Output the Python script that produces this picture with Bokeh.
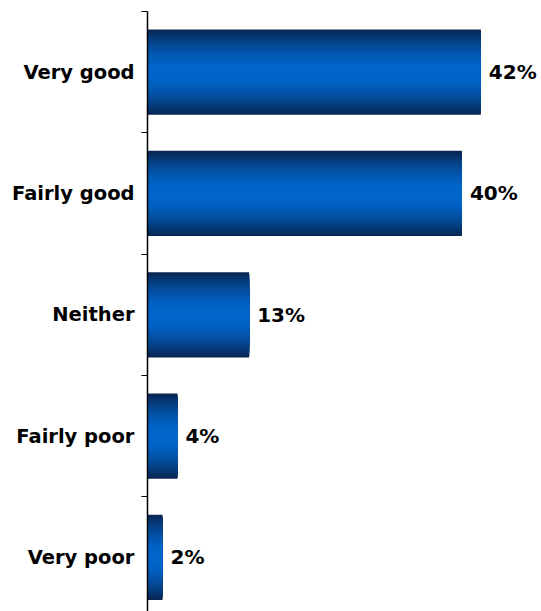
from bokeh.plotting import figure
from bokeh.models import Range1d, FixedTicker
from bokeh.core.properties import value
from bokeh.embed import file_html
from bokeh.resources import INLINE

categories = ["Very good", "Fairly good", "Neither", "Fairly poor", "Very poor"]
values = [42.3, 39.9, 12.9, 3.8, 1.9]
value_labels = ["42%", "40%", "13%", "4%", "2%"]

n = len(categories)
ypos = [n - 1 - i for i in range(n)]

p = figure(width=541, height=611, output_backend="svg", toolbar_location=None,
           x_range=Range1d(0, 50), y_range=Range1d(-0.446, n - 0.5),
           x_axis_location=None,
           min_border_left=147, min_border_right=0, min_border_top=11, min_border_bottom=0)
p.grid.visible = False
p.outline_line_color = None
p.background_fill_color = "white"

ax = p.yaxis[0]
ax.ticker = FixedTicker(ticks=ypos, minor_ticks=[k + 0.5 for k in range(-1, n)])
ax.major_label_overrides = {y: c for y, c in zip(ypos, categories)}
ax.major_tick_out = 0
ax.major_tick_in = 0
ax.minor_tick_out = 6
ax.minor_tick_in = 0
ax.minor_tick_line_color = "black"
ax.axis_line_color = "black"
ax.axis_line_width = 1.5
ax.major_label_standoff = 7
ax.major_label_text_font = "DejaVu Sans"
ax.major_label_text_font_style = "bold"
ax.major_label_text_font_size = "19.5px"
ax.major_label_text_color = "black"

# gradient bars: nested bars, darkest (full height) first, brightest (thinnest) last
bar_h = 0.703
nlevels = 40
center = (0, 102, 204)
edge = (8, 38, 82)
for j in range(nlevels):
    t = 1 - j / nlevels
    m = min(1.0, t ** 1.8)
    col = tuple(int(round(center[i] * (1 - m) + edge[i] * m)) for i in range(3))
    hexcol = "#%02x%02x%02x" % col
    p.hbar(y=ypos, left=0, right=values, height=bar_h * t,
           fill_color=hexcol, line_color=None)

p.text(x=values, y=ypos, text=value_labels, x_offset=8,
       text_baseline="middle", text_align="left",
       text_font=value("DejaVu Sans"), text_font_style="bold",
       text_font_size="20px", text_color="black")

open("out.html", "w").write(file_html(p, INLINE))
